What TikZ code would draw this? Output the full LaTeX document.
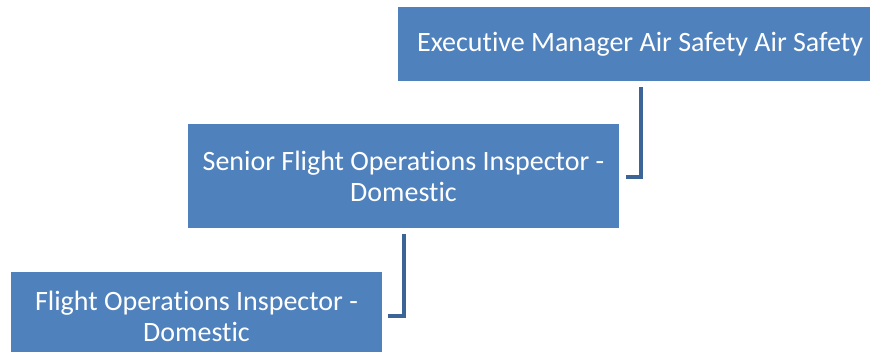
\documentclass[tikz,border=0pt]{standalone}
\usepackage{fontspec}
\setmainfont[Ligatures=NoCommon]{Carlito}
\usetikzlibrary{calc}
\definecolor{boxfill}{HTML}{4F81BD}
\definecolor{linecol}{HTML}{3C6496}
\tikzset{
  orgbox/.style={draw=none, fill=boxfill, text=white, align=center, inner sep=0pt,
    font=\fontsize{28}{31}\selectfont},
  conn/.style={draw=linecol, line width=4pt}
}
\begin{document}
\begin{tikzpicture}[x=1pt, y=-1pt]
\useasboundingbox (0,0) rectangle (870,352);
\clip (0,0) rectangle (870,352);
\fill[white] (0,0) rectangle (870,352);
\node[orgbox, minimum width=484pt, minimum height=74pt] (top) at (640,44) {Executive Manager Air Safety Air Safety};
\node[orgbox, minimum width=431pt, minimum height=104pt] (mid) at (403.5,176) {Senior Flight Operations Inspector -\\Domestic};
\node[orgbox, minimum width=371pt, minimum height=88pt] (bot) at (196.5,316) {Flight Operations Inspector -\\Domestic};
\draw[conn] ($(top.south)+(1,6)$) |- ($(mid.east)+(6.5,1)$);
\draw[conn] ($(mid.south -| 404,0)+(0,6)$) |- ($(bot.east)+(6,0)$);
\end{tikzpicture}
\end{document}
